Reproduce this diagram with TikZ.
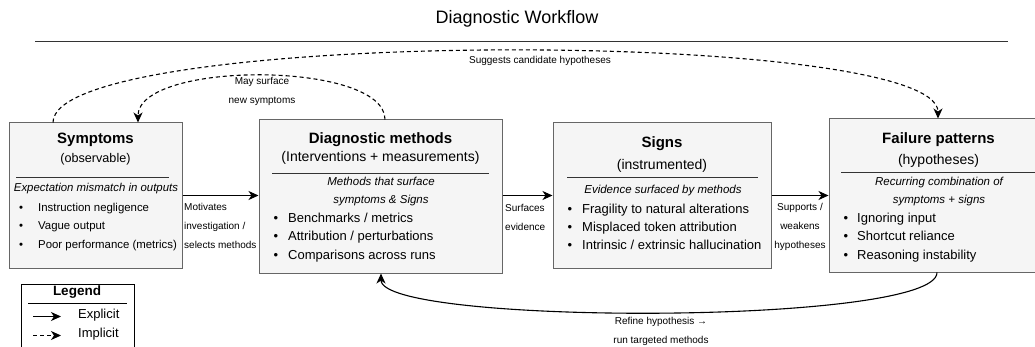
\documentclass[tikz,border=0pt]{standalone}
\usepackage{fontspec}
\setmainfont{Liberation Sans}
\usetikzlibrary{arrows.meta,calc}
\definecolor{boxfill}{HTML}{F5F5F5}
\definecolor{boxline}{HTML}{666666}
\definecolor{ruleclr}{HTML}{333333}
\newcommand{\fs}[2]{\fontsize{#1}{#2}\selectfont}
\begin{document}
\begin{tikzpicture}[x=1pt,y=-1pt,
  box/.style={draw=boxline, fill=boxfill, line width=1pt, inner sep=0pt},
  sepline/.style={draw=ruleclr, line width=1pt},
  txt/.style={inner sep=0pt, text height=0.72em, text depth=0.2em},
  ttl/.style={txt, font=\fs{15}{18}\bfseries},
  sub/.style={txt, font=\fs{14}{17}},
  ital/.style={txt, font=\fs{11.5}{14}\itshape},
  bul/.style={txt, font=\fs{13}{16}, anchor=west},
  lbl/.style={inner sep=0pt, font=\fs{10}{19}},
  tip/.style={-{Stealth[length=10pt,width=9pt,inset=3pt]}},
  expl/.style={tip, line width=1.1pt},
  impl/.style={tip, line width=1.1pt, dash pattern=on 4pt off 3pt},
]
\useasboundingbox (0,0) rectangle (1035,347);
\clip (0,0) rectangle (1035,347);

% title
\node[txt, font=\fs{18}{22}] (title) at (517,21) {Diagnostic Workflow};
\coordinate (rl) at (35,41.5);
\coordinate (rr) at (1008,41.5);
\draw[sepline] (rl) -- (rr);

% boxes
\node[box, minimum width=173pt, minimum height=145pt] (sym) at (95.5,195.5) {};
\node[box, minimum width=243pt, minimum height=153pt] (diag) at (380.5,196.5) {};
\node[box, minimum width=218pt, minimum height=145pt] (sig) at (662,195.5) {};
\node[box, minimum width=219pt, minimum height=153pt] (fail) at (938.5,195.5) {};

% Symptoms content
\node[ttl] (symT) at (95.5,141) {Symptoms};
\node[txt, font=\fs{12.6}{15}] (symS) at (95.5,160) {(observable)};
\draw[sepline] (16,177.5) -- (169,177.5);
\node[txt, font=\fs{11.4}{14}\itshape] (symI) at (96,189) {Expectation mismatch in outputs};
\node[txt, font=\fs{11.4}{14}] (symd1) at (21,209) {•};
\node[txt, font=\fs{11.4}{14}, anchor=west] (symb1) at (38,209) {Instruction negligence};
\node[txt, font=\fs{11.4}{14}] (symd2) at (21,227) {•};
\node[txt, font=\fs{11.4}{14}, anchor=west] (symb2) at (38,227) {Vague output};
\node[txt, font=\fs{11.4}{14}] (symd3) at (21,246) {•};
\node[txt, font=\fs{11.4}{14}, anchor=west] (symb3) at (38,246) {Poor performance (metrics)};

% Diagnostic content
\node[ttl] (diagT) at (380.5,141) {Diagnostic methods};
\node[sub] (diagS) at (380.5,159) {(Interventions + measurements)};
\draw[sepline] (272,173.5) -- (489,173.5);
\node[ital] (diagI1) at (381,183) {Methods that surface};
\node[ital] (diagI2) at (381,201) {symptoms \& Signs};
\node[txt, font=\fs{13}{16}] (diagd1) at (276,220) {•};
\node[bul] (diagb1) at (288,220) {Benchmarks / metrics};
\node[txt, font=\fs{13}{16}] (diagd2) at (276,238) {•};
\node[bul] (diagb2) at (288,238) {Attribution / perturbations};
\node[txt, font=\fs{13}{16}] (diagd3) at (276,257) {•};
\node[bul] (diagb3) at (288,257) {Comparisons across runs};

% Signs content
\node[ttl] (sigT) at (662,145) {Signs};
\node[sub] (sigS) at (662,167) {(instrumented)};
\draw[sepline] (567,177.5) -- (758,177.5);
\node[ital] (sigI) at (663,191) {Evidence surfaced by methods};
\node[txt, font=\fs{13}{16}] (sigd1) at (570,211) {•};
\node[bul] (sigb1) at (582,211) {Fragility to natural alterations};
\node[txt, font=\fs{13}{16}] (sigd2) at (570,229) {•};
\node[bul] (sigb2) at (582,229) {Misplaced token attribution};
\node[txt, font=\fs{13}{16}] (sigd3) at (570,247) {•};
\node[bul] (sigb3) at (582,247) {Intrinsic / extrinsic hallucination};

% Failure content
\node[ttl] (failT) at (938.5,141) {Failure patterns};
\node[sub] (failS) at (938.5,162) {(hypotheses)};
\draw[sepline] (841,172.5) -- (1036,172.5);
\node[ital] (failI1) at (939,183) {Recurring combination of};
\node[ital] (failI2) at (939,201) {symptoms + signs};
\node[txt, font=\fs{13}{16}] (faild1) at (846,220) {•};
\node[bul] (failb1) at (857,220) {Ignoring input};
\node[txt, font=\fs{13}{16}] (faild2) at (846,238) {•};
\node[bul] (failb2) at (857,238) {Shortcut reliance};
\node[txt, font=\fs{13}{16}] (faild3) at (846,257) {•};
\node[bul] (failb3) at (857,257) {Reasoning instability};

% straight connectors
\draw[expl] (sym.east) -- (sym.east -| diag.west);
\node[lbl, anchor=west, align=left] (l1) at (184,226) {Motivates\\investigation /\\selects methods};
\draw[expl] (diag.east |- sig.west) -- (sig.west);
\node[lbl, anchor=west, align=left] (l2) at (505,217) {Surfaces\\evidence};
\draw[expl] (sig.east) -- (sig.east -| fail.west);
\node[lbl, align=center] (l3) at (800,226.5) {Supports /\\weakens\\hypotheses};

% curved connectors
\draw[impl] ([xshift=-42.5pt]sym.north) .. controls +(0,-95) and +(0,-91) .. ([xshift=-0.5pt]fail.north);
\node[lbl] (l4) at (540,61) {Suggests candidate hypotheses};
\draw[impl] ([xshift=4.5pt]diag.north) .. controls +(0,-59) and +(0,-62) .. ([xshift=42.5pt]sym.north);
\node[lbl, align=center] (l5) at (262,91.5) {May surface\\new symptoms};
\draw[expl] ([xshift=-1.5pt]fail.south) .. controls +(0,53) and +(0,52) .. ([xshift=0.5pt]diag.south);
\node[lbl, align=center] (l6) at (661,331.5) {Refine hypothesis →\\run targeted methods};

% legend
\node[draw=black, line width=1pt, fill=white, minimum width=113pt, minimum height=66pt, inner sep=0pt] (leg) at (77.5,317) {};
\node[txt, font=\fs{13.5}{16}\bfseries] (legT) at (77,293) {Legend};
\draw[draw=black, line width=1pt] (28,303.5) -- (127,303.5);
\coordinate (e1) at (33,316.5);
\coordinate (e2) at (61,316.5);
\draw[expl] (e1) -- (e2);
\node[txt, font=\fs{13}{16}, anchor=west] (legE) at (78,316) {Explicit};
\coordinate (i1) at (33,335.5);
\coordinate (i2) at (61,335.5);
\draw[impl] (i1) -- (i2);
\node[txt, font=\fs{13}{16}, anchor=west] (legI) at (78,335) {Implicit};
\end{tikzpicture}
\end{document}
